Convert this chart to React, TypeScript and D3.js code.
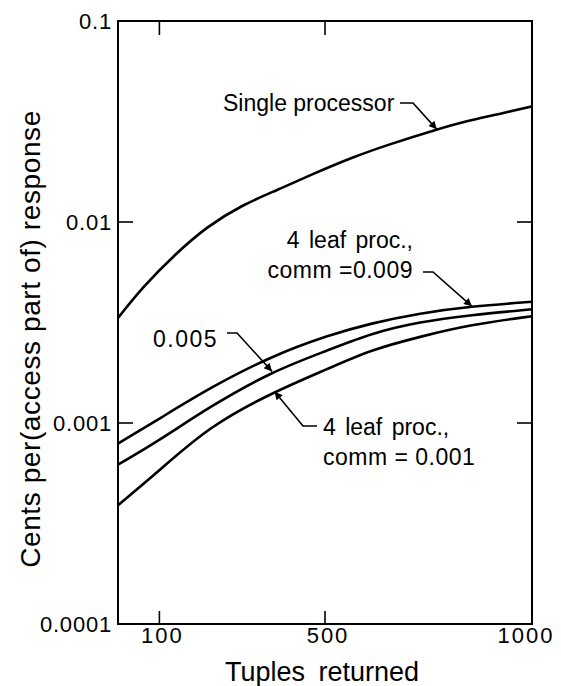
import React from "react";
import * as d3 from "d3";

// Tuples returned (x) and cents per response (y, log scale)
const singleTuples = [0, 60, 140, 215, 300, 385, 465, 570, 650, 770, 850, 930, 1000];
const singleCost = [0.00333, 0.00476, 0.00698, 0.00949, 0.01217, 0.01442, 0.01714, 0.02113, 0.02415, 0.0289, 0.0321, 0.0348, 0.0376];

const leafTuples = [0, 100, 220, 370, 510, 610, 730, 850, 1000];
const comm009 = [0.00079, 0.00105, 0.00149, 0.00215, 0.00274, 0.00313, 0.00352, 0.0038, 0.00401];
const comm005 = [0.00062, 0.00082, 0.0012, 0.0018, 0.00231, 0.00279, 0.00319, 0.00344, 0.00368];
const comm001 = [0.00039, 0.00058, 0.00096, 0.00141, 0.00187, 0.00231, 0.00269, 0.00308, 0.0034];

const xTicks = [100, 500, 1000];
const yTicks = [0.1, 0.01, 0.001, 0.0001];
const yTickLabels = ["0.1", "0.01", "0.001", "0.0001"];

const W = 561;
const H = 686;
const FONT = "'Liberation Sans', Arial, sans-serif";

const x = d3.scaleLinear().domain([0, 1000]).range([118, 532]);
const y = d3.scaleLog().domain([0.0001, 0.1]).range([624, 21]);

const line = d3
  .line<[number, number]>()
  .x((d) => x(d[0]))
  .y((d) => y(d[1]))
  .curve(d3.curveBasis);

const zip = (xs: number[], ys: number[]) => xs.map((v, i) => [v, ys[i]] as [number, number]);

// value on a series at tuples t (log-linear between read points), for arrow tips
const valueAt = (xs: number[], ys: number[], t: number) => {
  const i = Math.max(1, d3.bisectLeft(xs, t));
  const f = (t - xs[i - 1]) / (xs[i] - xs[i - 1]);
  return Math.exp(Math.log(ys[i - 1]) + f * (Math.log(ys[i]) - Math.log(ys[i - 1])));
};

const series = [
  {name: "single", xs: singleTuples, ys: singleCost},
  {name: "c009", xs: leafTuples, ys: comm009},
  {name: "c005", xs: leafTuples, ys: comm005},
  {name: "c001", xs: leafTuples, ys: comm001},
];

// leader lines: start point, bend point, then tip on the curve
const leaders = [
  {from: [400, 103], bend: [413, 103], xs: singleTuples, ys: singleCost, t: 770},
  {from: [423, 272], bend: [433, 272], xs: leafTuples, ys: comm009, t: 855},
  {from: [227, 333], bend: [237, 333], xs: leafTuples, ys: comm005, t: 372},
  {from: [317, 426], bend: [303, 426], xs: leafTuples, ys: comm001, t: 378},
];

export default function App() {
  const x0 = x.range()[0];
  const x1 = x.range()[1];
  const yTop = y.range()[1];
  const yBot = y.range()[0];

  return (
    <svg
      width={W}
      height={H}
      viewBox={`0 0 ${W} ${H}`}
      style={{position: "absolute", left: 0, top: 0, background: "#fff"}}
      fontFamily={FONT}
    >
      <defs>
        <marker id="arrow" viewBox="0 0 10 10" refX="10" refY="5" markerWidth="10" markerHeight="8" markerUnits="userSpaceOnUse" orient="auto">
          <path d="M0,0 L10,5 L0,10 Z" fill="#000" />
        </marker>
      </defs>

      {/* frame */}
      <rect x={x0} y={yTop} width={x1 - x0} height={yBot - yTop} fill="none" stroke="#000" strokeWidth={2} />

      {/* inner ticks */}
      {[0.01, 0.001].map((v) => (
        <g key={v}>
          <line x1={x0} x2={x0 + 15} y1={y(v)} y2={y(v)} stroke="#000" strokeWidth={1.6} />
          <line x1={x1} x2={x1 - 15} y1={y(v)} y2={y(v)} stroke="#000" strokeWidth={1.6} />
        </g>
      ))}
      {[100, 500].map((v) => (
        <g key={v}>
          <line x1={x(v)} x2={x(v)} y1={yTop} y2={yTop + 14} stroke="#000" strokeWidth={1.6} />
          <line x1={x(v)} x2={x(v)} y1={yBot} y2={yBot - 13} stroke="#000" strokeWidth={1.6} />
        </g>
      ))}

      {/* tick labels */}
      {yTicks.map((v, i) => (
        <text key={v} x={x0 - 6} y={y(v)} dy="0.36em" textAnchor="end" fontSize={22} letterSpacing={0.8}>
          {yTickLabels[i]}
        </text>
      ))}
      {xTicks.map((v) => (
        <text key={v} x={v === 1000 ? x(v) - 6 : x(v) + 3} y={yBot + 19} textAnchor="middle" fontSize={22} letterSpacing={2}>
          {v}
        </text>
      ))}

      {/* axis titles */}
      <text x={322} y={681} textAnchor="middle" fontSize={27} wordSpacing={6}>
        Tuples returned
      </text>
      <text transform={`translate(40,339) rotate(-90)`} textAnchor="middle" fontSize={28} letterSpacing={0.6}>
        Cents per(access part of) response
      </text>

      {/* curves */}
      {series.map((s) => (
        <path key={s.name} d={line(zip(s.xs, s.ys)) ?? ""} fill="none" stroke="#000" strokeWidth={2.6} strokeLinejoin="round" />
      ))}

      {/* annotations */}
      <text x={223} y={111} fontSize={23}>Single processor</text>
      <text x={413} y={248} fontSize={23} textAnchor="end" wordSpacing={3}>4 leaf proc.,</text>
      <text x={413} y={278} fontSize={23} textAnchor="end" letterSpacing={0.5}>comm =0.009</text>
      <text x={153} y={347} fontSize={23} letterSpacing={1.5}>0.005</text>
      <text x={323} y={435} fontSize={23} wordSpacing={3}>4 leaf proc.,</text>
      <text x={323} y={465} fontSize={23} letterSpacing={0.5}>comm = 0.001</text>

      {leaders.map((l, i) => {
        const tx = x(l.t);
        const ty = y(valueAt(l.xs, l.ys, l.t));
        return (
          <polyline
            key={i}
            points={`${l.from[0]},${l.from[1]} ${l.bend[0]},${l.bend[1]} ${tx},${ty}`}
            fill="none"
            stroke="#000"
            strokeWidth={1.6}
            markerEnd="url(#arrow)"
          />
        );
      })}
    </svg>
  );
}
